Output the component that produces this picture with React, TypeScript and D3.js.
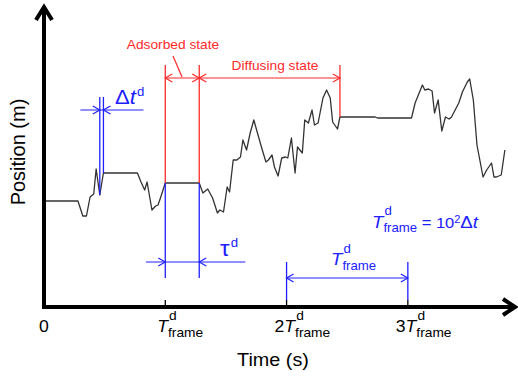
import * as d3 from 'd3'

// trace: time in Δt steps, position in arbitrary units
const TIME = [1, 28, 32, 35, 38, 40, 41, 43, 46, 49, 77, 80, 83, 85, 89, 92, 94, 96, 100, 128,
  131, 135, 139, 143, 145, 148, 151, 153, 156, 159, 162, 164, 167, 170, 173, 176, 180, 183, 185, 188,
  190, 193, 196, 199, 201, 204, 207, 209, 213, 215, 218, 221, 223, 226, 230, 233, 236, 238, 242, 244,
  273, 275, 303, 306, 308, 312, 314, 317, 320, 322, 325, 328, 331, 334, 336, 342, 345, 349, 351, 354,
  357, 362, 365, 369, 371, 373, 377, 380]
const POSITION = [106, 106, 91, 91, 110, 112, 113, 138, 112, 134, 134, 125, 117, 125, 97, 101, 102, 109, 124, 124,
  114, 118, 109, 94, 97, 95, 120, 115, 147, 147, 150, 167, 157, 174, 187, 174, 157, 145, 147, 152,
  140, 131, 149, 150, 149, 169, 134, 160, 154, 187, 184, 197, 182, 184, 209, 217, 209, 185, 178, 190,
  190, 189, 189, 204, 210, 222, 217, 218, 216, 194, 207, 176, 190, 188, 190, 204, 215, 225, 228, 207,
  162, 130, 137, 144, 130, 130, 132, 157]

const FRAME = 100 // Δt per frame
const TICK_FRAMES = [1, 2, 3]
const TICK_PREFIX = ['', '2', '3']

const DT_LINES = [46, 49]
const ADSORBED = [100, 128]
const DIFFUSE_END = 244

const W = 518
const H = 380
const BLUE = '#2020ff'
const RED = '#ff2a2a'
const FONT = '"Liberation Sans", Arial, sans-serif'
const STRETCH = 1.1

const x = d3.scaleLinear().domain([0, 390]).range([44, 517])
const y = d3.scaleLinear().domain([0, 300]).range([307, 7])

function Head({ tx, ty, dir, color }: { tx: number; ty: number; dir: number; color: string }) {
  return (
    <polyline
      points={`${tx - dir * 7},${ty - 4} ${tx},${ty} ${tx - dir * 7},${ty + 4}`}
      fill="none"
      stroke={color}
      strokeWidth={1.2}
    />
  )
}

function Txt({ x, y, size, fill = '#000', anchor = 'start', children }: any) {
  return (
    <g transform={`translate(${x},${y}) scale(${STRETCH},1)`}>
      <text fontFamily={FONT} fontSize={size} fill={fill} textAnchor={anchor}>
        {children}
      </text>
    </g>
  )
}

function TFrame({ x, y, size, sub, fill = '#000', prefix = '' }: any) {
  return (
    <Txt x={x} y={y} size={size} fill={fill}>
      {prefix}
      <tspan fontStyle="italic">T</tspan>
      <tspan dx={1} dy={-size * 0.72} fontSize={sub}>d</tspan>
      <tspan dx={-sub * 0.556 - 1} dy={size * 0.72 + size * 0.3} fontSize={sub}>frame</tspan>
    </Txt>
  )
}

export default function App() {
  const line = d3.line<number>().x((_, i) => x(TIME[i])).y(d => y(d))
  const tracePath = line(POSITION) || ''
  const x0 = x(0)
  const y0 = y(0)

  const traceAt = (t: number) => POSITION[TIME.indexOf(t)]

  return (
    <svg width={W} height={H} style={{ position: 'absolute', left: 0, top: 0, background: '#fff' }}>
      {/* trace */}
      <path d={tracePath} fill="none" stroke="#333" strokeWidth={1.3} strokeLinejoin="round" />

      {/* Δt marker */}
      {DT_LINES.map(t => (
        <line key={t} x1={x(t)} x2={x(t)} y1={y(210)} y2={y(traceAt(t))} stroke={BLUE} strokeWidth={1.3} />
      ))}
      <line x1={x(30)} x2={x(82)} y1={y(197)} y2={y(197)} stroke={BLUE} strokeWidth={1.2} />
      <Head tx={x(DT_LINES[0])} ty={y(197)} dir={1} color={BLUE} />
      <Head tx={x(DT_LINES[1])} ty={y(197)} dir={-1} color={BLUE} />
      <Txt x={115} y={104} size={20} fill={BLUE}>
        Δ<tspan fontStyle="italic">t</tspan>
        <tspan dx={1} dy={-8} fontSize={12}>d</tspan>
      </Txt>

      {/* adsorbed / diffusing */}
      {ADSORBED.map(t => (
        <g key={t}>
          <line x1={x(t)} x2={x(t)} y1={y(242)} y2={y(traceAt(t))} stroke={RED} strokeWidth={1.3} />
          <line x1={x(t)} x2={x(t)} y1={y(traceAt(t))} y2={y(29)} stroke={BLUE} strokeWidth={1.3} />
        </g>
      ))}
      <line x1={x(DIFFUSE_END)} x2={x(DIFFUSE_END)} y1={y(242)} y2={y(traceAt(DIFFUSE_END))} stroke={RED} strokeWidth={1.3} />
      <line x1={x(ADSORBED[0])} x2={x(DIFFUSE_END)} y1={y(229)} y2={y(229)} stroke={RED} strokeWidth={1.2} />
      <Head tx={x(ADSORBED[0])} ty={y(229)} dir={-1} color={RED} />
      <Head tx={x(ADSORBED[1])} ty={y(229)} dir={1} color={RED} />
      <Head tx={x(ADSORBED[1])} ty={y(229)} dir={-1} color={RED} />
      <Head tx={x(DIFFUSE_END)} ty={y(229)} dir={1} color={RED} />
      <line x1={182} y1={y(230)} x2={173} y2={56} stroke={RED} strokeWidth={1.2} />
      <Txt x={173} y={49} size={12.5} fill={RED} anchor="middle">Adsorbed state</Txt>
      <Txt x={275} y={70} size={12.5} fill={RED} anchor="middle">Diffusing state</Txt>

      {/* τ marker */}
      <line x1={x(84)} x2={x(166)} y1={y(45)} y2={y(45)} stroke={BLUE} strokeWidth={1.2} />
      <Head tx={x(ADSORBED[0])} ty={y(45)} dir={1} color={BLUE} />
      <Head tx={x(ADSORBED[1])} ty={y(45)} dir={-1} color={BLUE} />
      <Txt x={220} y={256} size={22} fill={BLUE}>
        τ<tspan dx={1} dy={-9} fontSize={12}>d</tspan>
      </Txt>

      {/* frame span */}
      {[2, 3].map(k => (
        <line key={k} x1={x(k * FRAME)} x2={x(k * FRAME)} y1={y(45)} y2={y(7)} stroke={BLUE} strokeWidth={1.3} />
      ))}
      <line x1={x(2 * FRAME)} x2={x(3 * FRAME)} y1={y(29)} y2={y(29)} stroke={BLUE} strokeWidth={1.2} />
      <Head tx={x(2 * FRAME)} ty={y(29)} dir={-1} color={BLUE} />
      <Head tx={x(3 * FRAME)} ty={y(29)} dir={1} color={BLUE} />
      <TFrame x={331} y={265} size={17} sub={12} fill={BLUE} />

      {/* formula */}
      <Txt x={372} y={228} size={17} fill={BLUE}>
        <tspan fontStyle="italic">T</tspan>
        <tspan dx={1} dy={-13} fontSize={12}>d</tspan>
        <tspan dx={-7.7} dy={17} fontSize={12}>frame</tspan>
        <tspan dy={-4} fontSize={15}> = 10</tspan>
        <tspan dy={-5} fontSize={10}>2</tspan>
        <tspan dy={5} fontSize={17}>Δ</tspan>
        <tspan fontStyle="italic" fontSize={17}>t</tspan>
      </Txt>

      {/* axes */}
      <line x1={x0} x2={x0} y1={y0 + 2} y2={7} stroke="#000" strokeWidth={4} />
      <polyline points={`${x0 - 8},${20} ${x0},${7} ${x0 + 8},${20}`} fill="none" stroke="#000" strokeWidth={4} />
      <line x1={x0 - 2} x2={514} y1={y0} y2={y0} stroke="#000" strokeWidth={4} />
      <polyline points={`${503},${y0 - 8} ${515},${y0} ${503},${y0 + 8}`} fill="none" stroke="#000" strokeWidth={4} />
      {TICK_FRAMES.map(k => (
        <line key={k} x1={x(k * FRAME)} x2={x(k * FRAME)} y1={y0 - 7} y2={y0} stroke="#000" strokeWidth={1.3} />
      ))}

      {/* tick labels */}
      <Txt x={x0} y={332} size={16} anchor="middle">0</Txt>
      {TICK_FRAMES.map((k, i) => (
        <TFrame key={k} x={x(k * FRAME) - (TICK_PREFIX[i] ? 12 : 8)} y={332} size={16} sub={12.5} prefix={TICK_PREFIX[i]} />
      ))}

      {/* axis titles */}
      <Txt x={273} y={366} size={18} anchor="middle">Time (s)</Txt>
      <g transform="translate(25,152) rotate(-90)">
        <text fontFamily={FONT} fontSize={20} textAnchor="middle">Position (m)</text>
      </g>
    </svg>
  )
}
